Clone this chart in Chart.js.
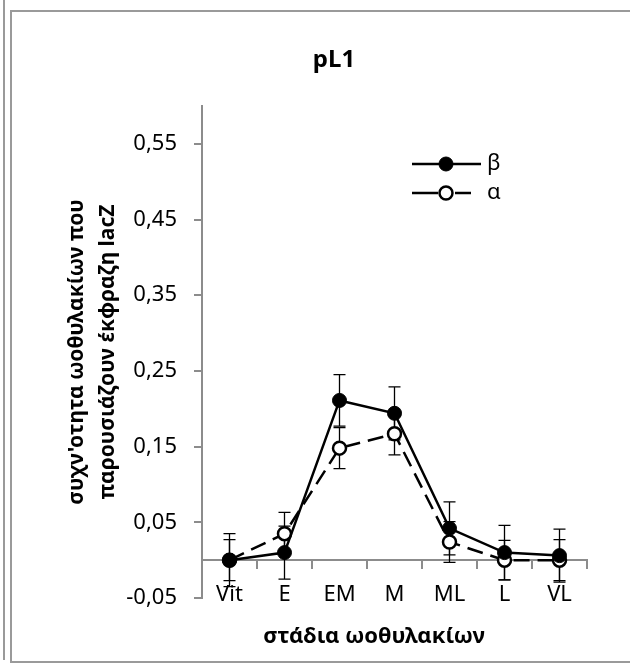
<!DOCTYPE html>
<html>
<head>
<meta charset="utf-8">
<script src="https://cdn.jsdelivr.net/npm/chart.js@4.4.1/dist/chart.umd.min.js"></script>
<style>
html,body{margin:0;padding:0;background:#fff;width:630px;height:664px;overflow:hidden}
.f1{position:absolute;left:3px;top:0;width:2px;height:660px;background:#9a9a9a}
.f2{position:absolute;left:10px;top:10px;width:700px;height:649px;border:2px solid #9a9a9a}
#c{position:absolute;left:0;top:0}
</style>
</head>
<body>
<div class="f1"></div>
<div class="f2"></div>
<canvas id="c" width="630" height="664"></canvas>
<script>
const categories = ['Vit', 'E', 'EM', 'M', 'ML', 'L', 'VL'];
const seriesNames = ['β', 'α'];
const betaValues = [0, 0.01, 0.211, 0.194, 0.042, 0.01, 0.006];
const alphaValues = [0, 0.035, 0.148, 0.167, 0.024, 0, 0];
const betaErrors = [0.035, 0.035, 0.034, 0.035, 0.035, 0.036, 0.035];
const alphaErrors = [0.027, 0.028, 0.027, 0.028, 0.027, 0.026, 0.027];
const yTickValues = [-0.05, 0.05, 0.15, 0.25, 0.35, 0.45, 0.55];
const yMin = -0.05, yMax = 0.6;
const chartTitle = 'pL1';
const yTitle = ["συχν'οτητα ωοθυλακίων που", 'παρουσιάζουν έκφραζη lacZ'];
const xTitle = 'στάδια ωοθυλακίων';

const FONT = "'Noto Sans', 'Open Sans', sans-serif";
const AXIS_GRAY = '#8c8c8c';

const errorBars = {
  id: 'errorBars',
  beforeDatasetsDraw(chart) {
    const ctx = chart.ctx, xs = chart.scales.x, ys = chart.scales.y;
    chart.data.datasets.forEach((ds) => {
      ctx.save();
      ctx.strokeStyle = '#000';
      ctx.lineWidth = 1.3;
      ds.errors.forEach((e, j) => {
        const px = xs.getPixelForValue(j);
        const t = ys.getPixelForValue(ds.data[j] + e);
        const b = ys.getPixelForValue(ds.data[j] - e);
        ctx.beginPath();
        ctx.moveTo(px, t); ctx.lineTo(px, b);
        ctx.moveTo(px - 6, t); ctx.lineTo(px + 6, t);
        ctx.moveTo(px - 6, b); ctx.lineTo(px + 6, b);
        ctx.stroke();
      });
      ctx.restore();
    });
  }
};

const titleAndLegend = {
  id: 'titleAndLegend',
  afterDraw(chart) {
    const ctx = chart.ctx;
    ctx.save();
    ctx.fillStyle = '#000';
    ctx.font = `bold 24px ${FONT}`;
    ctx.textAlign = 'center';
    ctx.textBaseline = 'alphabetic';
    ctx.fillText(chartTitle, 334, 67);

    ctx.font = `bold 22px ${FONT}`;
    ctx.fillText(xTitle, 374, 643);

    ctx.textBaseline = 'middle';
    const rows = [164, 193];
    chart.data.datasets.forEach((ds, i) => {
      const y = rows[i];
      ctx.strokeStyle = ds.borderColor;
      ctx.lineWidth = ds.borderWidth;
      ctx.setLineDash([]);
      ctx.beginPath();
      if (i === 0) {
        ctx.moveTo(412, y); ctx.lineTo(481, y);
      } else {
        ctx.moveTo(412, y); ctx.lineTo(438, y);
        ctx.moveTo(455, y); ctx.lineTo(471, y);
      }
      ctx.stroke();
      ctx.beginPath();
      ctx.arc(446, y, ds.pointRadius, 0, Math.PI * 2);
      ctx.fillStyle = ds.pointBackgroundColor;
      ctx.fill();
      ctx.lineWidth = ds.pointBorderWidth;
      ctx.strokeStyle = ds.pointBorderColor;
      ctx.stroke();
      ctx.fillStyle = '#000';
      ctx.font = `22px ${FONT}`;
      ctx.textAlign = 'left';
      ctx.fillText(ds.label, 487, y);
    });
    ctx.restore();
  }
};

new Chart(document.getElementById('c'), {
  type: 'line',
  data: {
    labels: categories,
    datasets: [
      {
        label: seriesNames[0], data: betaValues, errors: betaErrors,
        borderColor: '#000', borderWidth: 2.5, tension: 0,
        pointRadius: 7, pointHoverRadius: 7,
        pointBackgroundColor: '#000', pointBorderColor: '#000', pointBorderWidth: 1
      },
      {
        label: seriesNames[1], data: alphaValues, errors: alphaErrors,
        borderColor: '#000', borderWidth: 2.5, borderDash: [16, 8], tension: 0,
        pointRadius: 6.5, pointHoverRadius: 6.5,
        pointBackgroundColor: '#fff', pointBorderColor: '#000', pointBorderWidth: 2.5
      }
    ]
  },
  options: {
    responsive: false,
    animation: false,
    events: [],
    layout: { padding: { left: 0, top: 106, right: 43, bottom: 66 } },
    plugins: { legend: { display: false }, title: { display: false }, tooltip: { enabled: false } },
    scales: {
      x: {
        type: 'category',
        position: { y: 0 },
        offset: true,
        grid: { offset: true, drawOnChartArea: false, drawTicks: true, tickLength: 8, color: AXIS_GRAY, lineWidth: 2 },
        border: { display: true, color: AXIS_GRAY, width: 2 },
        ticks: { color: '#000', font: { family: FONT, size: 22 }, padding: 13, maxRotation: 0, autoSkip: false }
      },
      y: {
        min: yMin, max: yMax,
        afterBuildTicks(scale) { scale.ticks = yTickValues.map(v => ({ value: v })); },
        afterFit(scale) { scale.width = 202; },
        grid: { drawOnChartArea: false, drawTicks: true, tickLength: 8, color: AXIS_GRAY, lineWidth: 2 },
        border: { display: true, color: AXIS_GRAY, width: 2 },
        ticks: {
          color: '#000', font: { family: FONT, size: 22 }, padding: 17,
          callback: (v) => v.toFixed(2).replace('.', ',')
        },
        title: { display: true, text: yTitle, color: '#000', font: { family: FONT, size: 21, weight: 'bold', lineHeight: 1.5 }, padding: { top: 61, bottom: 0 } }
      }
    }
  },
  plugins: [errorBars, titleAndLegend]
});
</script>
</body>
</html>
